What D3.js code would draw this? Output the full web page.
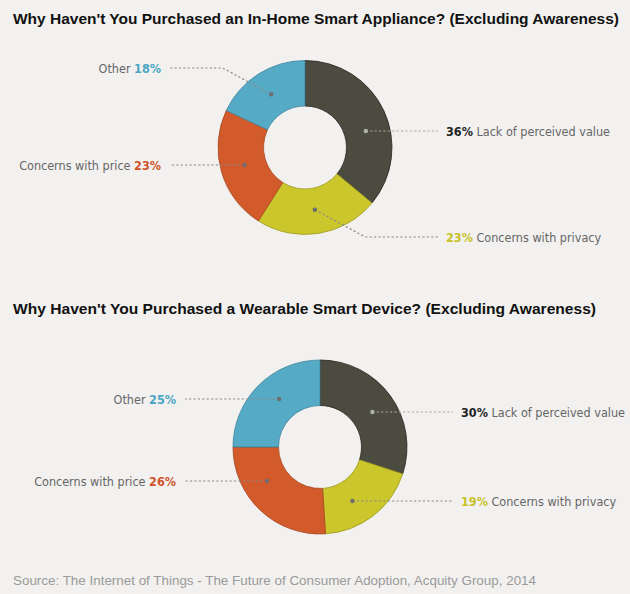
<!DOCTYPE html>
<html>
<head>
<meta charset="utf-8">
<script src="https://cdn.jsdelivr.net/npm/d3@7"></script>
<style>
  html, body { margin: 0; padding: 0; background: #f2f1ef; }
  svg { display: block; }
  .title { font-family: "Liberation Sans", Arial, sans-serif; font-weight: bold; font-size: 15px; fill: #111; }
  .source { font-family: "Liberation Sans", Arial, sans-serif; font-size: 13.5px; fill: #9a9a9a; }
  .lbl { font-family: "Liberation Sans Narrow", "DejaVu Sans Condensed", "Roboto", sans-serif; font-size: 12.5px; fill: #666; }
  .pct { font-weight: bold; }
</style>
</head>
<body>
<svg id="chart" width="630" height="594"></svg>
<script>
(function() {
    const categories = ["Lack of perceived value", "Concerns with privacy", "Concerns with price", "Other"];
    const shortNames = ["Lack of perceived value", "Concerns with privacy", "Concerns with price", "Other"];
    const applianceValues = [36, 23, 23, 18];
    const wearableValues = [30, 19, 26, 25];
    const sliceColors = ["#4b4b40", "#cbc62c", "#d35a2b", "#55aac6"];
    const pctColors = ["#222222", "#c6c126", "#d0522a", "#4aa5c3"];
    const titles = [
        "Why Haven't You Purchased an In-Home Smart Appliance? (Excluding Awareness)",
        "Why Haven't You Purchased a Wearable Smart Device? (Excluding Awareness)"
    ];
    const sourceText = "Source: The Internet of Things - The Future of Consumer Adoption, Acquity Group, 2014";

    const svg = d3.select("#chart");
    svg.append("rect").attr("width", 630).attr("height", 594).attr("fill", "#f2f1ef");

    const outerR = 87, innerR = 41.5, dotR = 63;
    const pie = d3.pie().sort(null).value(d => d);
    const arc = d3.arc().innerRadius(innerR).outerRadius(outerR);

    // layout per chart: centre, title, label rows (y offset from centre), bent leaders
    const charts = [
        { values: applianceValues, title: titles[0], cx: 305, cy: 147.5, titleY: 24, titleW: 606,
          rowDy: [-16.5, 89.5, 17.5, -79.5], bent: [false, true, false, true] },
        { values: wearableValues, title: titles[1], cx: 320, cy: 447, titleY: 314, titleW: 583,
          rowDy: [-35, 54, 34, -48], bent: [false, false, false, false] }
    ];

    charts.forEach(c => {
        svg.append("text")
            .attr("class", "title")
            .attr("x", 13).attr("y", c.titleY)
            .attr("textLength", c.titleW)
            .attr("lengthAdjust", "spacingAndGlyphs")
            .text(c.title);

        const g = svg.append("g").attr("transform", `translate(${c.cx},${c.cy})`);
        const arcs = pie(c.values);

        g.selectAll("path.slice")
            .data(arcs)
            .join("path")
            .attr("class", "slice")
            .attr("d", arc)
            .attr("fill", (d, i) => sliceColors[i])
            .attr("stroke", (d, i) => d3.color(sliceColors[i]).darker(i === 0 ? 2 : 0.7))
            .attr("stroke-width", 0.8);

        arcs.forEach((d, i) => {
            const right = (d.startAngle + d.endAngle) / 2 < Math.PI;
            const side = right ? 1 : -1;
            const rowY = c.rowDy[i];
            let dot, pts;
            const lineEnd = right ? 133 : -135;
            if (c.bent[i]) {
                const [x, y] = d3.arc().innerRadius(dotR - 1.5).outerRadius(dotR + 1.5).centroid(d);
                dot = [x, y];
                const elbowX = x + side * Math.abs(rowY - y) * 1.85;
                pts = [dot, [elbowX, rowY], [lineEnd, rowY]];
            } else {
                const x = side * Math.sqrt(dotR * dotR - rowY * rowY);
                dot = [x, rowY];
                pts = [dot, [lineEnd, rowY]];
            }
            const onDark = i === 0;
            g.append("path")
                .attr("d", d3.line()(pts))
                .attr("fill", "none")
                .attr("stroke", onDark ? "#a9a9a3" : "#8a8a8a")
                .attr("stroke-width", 1.2)
                .attr("stroke-dasharray", "2.2,2.2");
            g.append("circle")
                .attr("cx", dot[0]).attr("cy", dot[1])
                .attr("r", 2.2)
                .attr("fill", onDark ? "#b0b0aa" : "#6e6e6e");

            const t = g.append("text")
                .attr("class", "lbl")
                .attr("y", rowY + 4.8);
            const pct = `${c.values[i]}%`;
            if (right) {
                t.attr("x", 141).attr("text-anchor", "start");
                t.append("tspan").attr("class", "pct").attr("fill", pctColors[i]).text(pct);
                t.append("tspan").text(" " + shortNames[i]);
            } else {
                t.attr("x", -144).attr("text-anchor", "end");
                t.append("tspan").text(shortNames[i] + " ");
                t.append("tspan").attr("class", "pct").attr("fill", pctColors[i]).text(pct);
            }
        });
    });

    svg.append("text")
        .attr("class", "source")
        .attr("x", 13).attr("y", 585)
        .attr("textLength", 523)
        .attr("lengthAdjust", "spacingAndGlyphs")
        .text(sourceText);
})();
</script>
</body>
</html>
